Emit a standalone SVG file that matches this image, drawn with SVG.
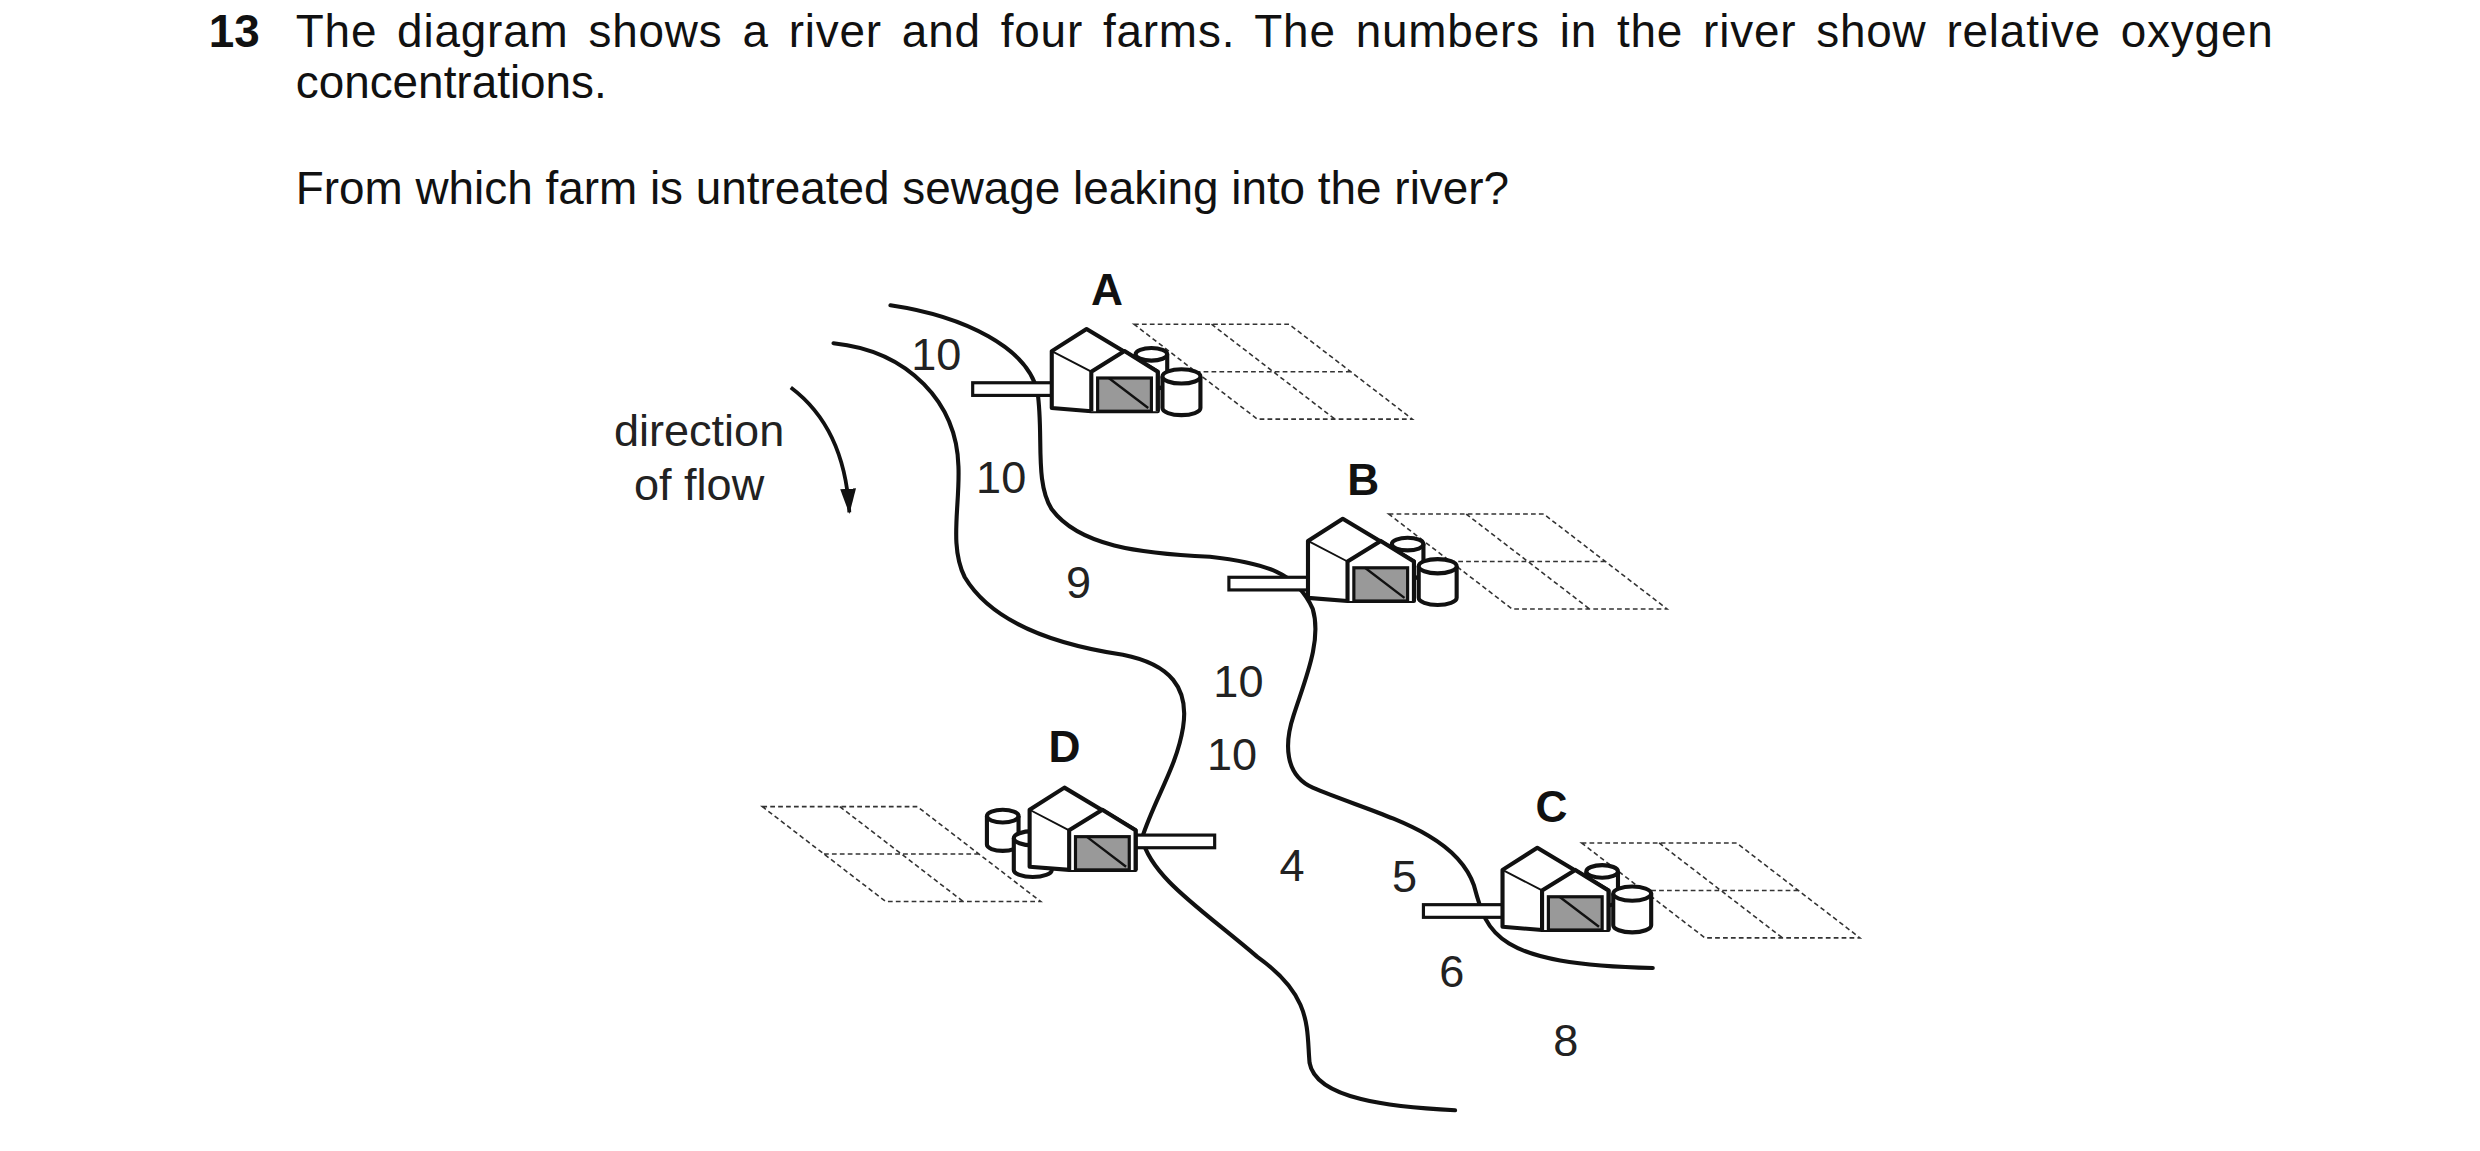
<svg xmlns="http://www.w3.org/2000/svg" width="2480" height="1151" viewBox="0 0 2480 1151">
<style>
.t{font-family:"Liberation Sans",Arial,sans-serif;font-size:29px;fill:#111}
.b{font-weight:bold}
.n{font-family:"Liberation Sans",Arial,sans-serif;font-size:28.5px;fill:#222;text-anchor:middle}
.l{font-family:"Liberation Sans",Arial,sans-serif;font-size:28px;font-weight:bold;fill:#111;text-anchor:middle}
.river{fill:none;stroke:#111;stroke-width:2.6;stroke-linecap:round}
.thin{fill:#fff;stroke:#111;stroke-width:1.2;stroke-linejoin:round}
.thick{fill:#fff;stroke:#111;stroke-width:2.6;stroke-linejoin:round}
.dash{fill:none;stroke:#333;stroke-width:1;stroke-dasharray:3 2}
</style>
<defs>
<g id="house">
<path d="M-25,-2 V-38 L-3,-52 L42,-25 V0 L0,0 Z" class="thick"/>
<path d="M-25,-38 L0,-25 M-3,-52 L21,-38" class="thin"/>
<path d="M0,0 V-25 L21,-38 L42,-25 V0" class="thick"/>
<rect x="4" y="-21" width="34" height="21" fill="#999" stroke="#111" stroke-width="2"/>
<line x1="11" y1="-21" x2="36" y2="-2" stroke="#111" stroke-width="1.5"/>
</g>
<g id="silos">
<path d="M-10,-2 V16 A10,4 0 0 0 10,16 V-2" class="thick"/>
<ellipse cx="0" cy="-2" rx="10" ry="4" class="thick"/>
<path d="M7,12 V32 A12,4.5 0 0 0 31,32 V12" class="thick"/>
<ellipse cx="19" cy="12" rx="12" ry="4.5" class="thick"/>
</g>
<g id="pipe">
<rect x="0" y="0" width="50" height="8" fill="#fff" stroke="#111" stroke-width="2"/>
</g>
<g id="field">
<path d="M0,0 H98 L176,60 H78 Z M39,30 H137 M49,0 L127,60" class="dash"/>
</g>
<marker id="ah" markerWidth="16" markerHeight="10" refX="15" refY="5" orient="auto" markerUnits="userSpaceOnUse" viewBox="0 0 16 10">
<path d="M0,0 L16,5 L0,10 Z" fill="#111"/>
</marker>
</defs>
<g transform="scale(1.5816)">
<g id="question">
<text class="t b" x="132" y="30">13</text>
<text class="t" x="187" y="30" textLength="1250" lengthAdjust="spacing" word-spacing="4">The diagram shows a river and four farms. The numbers in the river show relative oxygen</text>
<text class="t" x="187" y="62">concentrations.</text>
<text class="t" x="187" y="129">From which farm is untreated sewage leaking into the river?</text>
</g>
<g id="connectors">
<path class="river" d="M527,217 C575,222 605,255 606,295 C607,320 600,345 610,365 C628,395 670,408 710,414 C740,420 752,435 748,460 C744,485 730,505 722,530 C728,555 760,575 795,605 C830,630 826,650 828,672 C832,695 880,700 920,702"/>
<path class="river" d="M563,193 C610,200 650,220 656,248 C660,275 654,305 665,322 C682,345 720,350 765,352 C800,356 820,362 830,385 C836,405 825,430 818,452 C812,470 812,490 830,498 C870,515 920,525 932,560 C940,590 945,610 1045,612"/>
<path d="M500,245 C520,260 535,285 537,324" fill="none" stroke="#111" stroke-width="2.4" marker-end="url(#ah)"/>
</g>
<g id="labels">
<text class="n" x="442" y="282">direction</text>
<text class="n" x="442" y="316">of flow</text>
<text class="n" x="592" y="234">10</text>
<text class="n" x="633" y="312">10</text>
<text class="n" x="682" y="378">9</text>
<text class="n" x="783" y="441">10</text>
<text class="n" x="779" y="487">10</text>
<text class="n" x="817" y="557">4</text>
<text class="n" x="888" y="564">5</text>
<text class="n" x="918" y="624">6</text>
<text class="n" x="990" y="668">8</text>
</g>
<g id="farmA">
<use href="#field" x="717" y="205"/>
<use href="#silos" x="728" y="226"/>
<use href="#pipe" x="615" y="242"/>
<use href="#house" x="690" y="260"/>
<text class="l" x="700" y="193">A</text>
</g>
<g id="farmB">
<use href="#field" x="878" y="325"/>
<use href="#silos" x="890" y="346"/>
<use href="#pipe" x="777" y="365"/>
<use href="#house" x="852" y="380"/>
<text class="l" x="862" y="313">B</text>
</g>
<g id="farmC">
<use href="#field" x="1000" y="533"/>
<use href="#silos" x="1013" y="553"/>
<use href="#pipe" x="900" y="572"/>
<use href="#house" x="975" y="588"/>
<text class="l" x="981" y="520">C</text>
</g>
<g id="farmD">
<use href="#field" x="482" y="510"/>
<use href="#silos" x="634" y="518"/>
<use href="#pipe" x="718" y="528"/>
<use href="#house" x="676" y="550"/>
<text class="l" x="673" y="482">D</text>
</g>
</g>
</svg>
